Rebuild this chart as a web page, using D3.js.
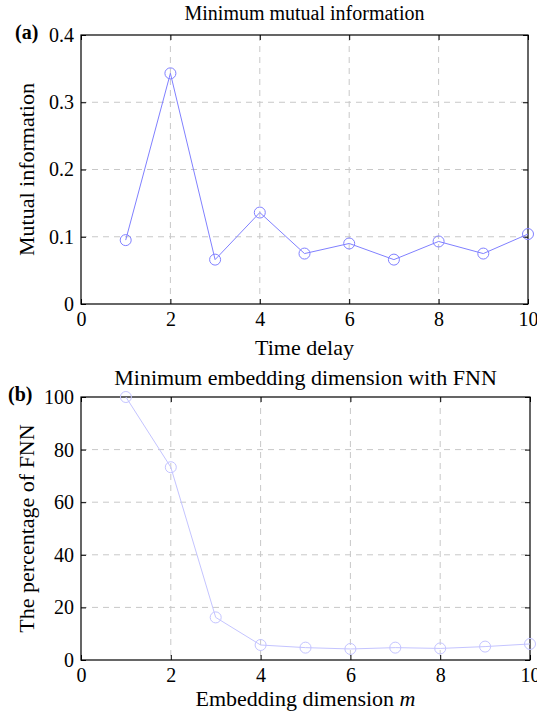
<!DOCTYPE html>
<html>
<head>
<meta charset="utf-8">
<script src="https://cdn.jsdelivr.net/npm/d3@7"></script>
<style>
  body { margin: 0; background: #fff; }
  svg text { font-family: 'Liberation Serif', 'Times New Roman', serif; fill: #000; }
</style>
</head>
<body>
<div id="chart"></div>
<script>
// panel (a): mutual information vs time delay
const delays = [1, 2, 3, 4, 5, 6, 7, 8, 9, 10];
const mutualInfo = [0.095, 0.343, 0.066, 0.136, 0.075, 0.090, 0.066, 0.093, 0.075, 0.104];
const miTicksX = [0, 2, 4, 6, 8, 10];
const miTicksY = [0, 0.1, 0.2, 0.3, 0.4];

// panel (b): false nearest neighbours vs embedding dimension
const dims = [1, 2, 3, 4, 5, 6, 7, 8, 9, 10];
const fnnPercent = [100, 73.3, 16.2, 5.7, 4.7, 4.2, 4.7, 4.4, 5.1, 6.1];
const fnnTicksX = [0, 2, 4, 6, 8, 10];
const fnnTicksY = [0, 20, 40, 60, 80, 100];

const width = 537;
const height = 716;
const serif = "'Liberation Serif', 'Times New Roman', serif";

const svg = d3.select('#chart')
    .append('svg')
    .attr('width', width)
    .attr('height', height);

function drawPanel(opts) {
    const { left, right, top, bottom } = opts;
    const g = svg.append('g');

    const xScale = d3.scaleLinear().domain([0, 10]).range([left, right]);
    const yScale = d3.scaleLinear().domain(opts.yDomain).range([bottom, top]);

    // grid
    g.append('g')
        .selectAll('line')
        .data(opts.ticksX.slice(1, -1))
        .enter()
        .append('line')
        .attr('x1', d => xScale(d)).attr('x2', d => xScale(d))
        .attr('y1', top).attr('y2', bottom)
        .attr('stroke', '#c8c8c8')
        .attr('stroke-dasharray', '6,5');
    g.append('g')
        .selectAll('line')
        .data(opts.ticksY.slice(1, -1))
        .enter()
        .append('line')
        .attr('y1', d => yScale(d)).attr('y2', d => yScale(d))
        .attr('x1', left).attr('x2', right)
        .attr('stroke', '#c8c8c8')
        .attr('stroke-dasharray', '6,5');

    // axes, ticks pointing inwards (matlab style)
    const axisFont = a => a.selectAll('text')
        .style('font-family', serif)
        .style('font-size', '20px')
        .attr('fill', '#000');

    g.append('g')
        .attr('transform', `translate(0,${bottom})`)
        .call(d3.axisBottom(xScale).tickValues(opts.ticksX).tickSize(-5).tickPadding(8).tickFormat(d3.format('d')))
        .call(axisFont)
        .call(a => a.select('.domain').remove());
    g.append('g')
        .attr('transform', `translate(0,${top})`)
        .call(d3.axisTop(xScale).tickValues(opts.ticksX).tickSize(-5).tickFormat(''))
        .call(a => a.select('.domain').remove());
    g.append('g')
        .attr('transform', `translate(${left},0)`)
        .call(d3.axisLeft(yScale).tickValues(opts.ticksY).tickSize(-5).tickPadding(7).tickFormat(opts.yFormat))
        .call(axisFont)
        .call(a => a.select('.domain').remove());
    g.append('g')
        .attr('transform', `translate(${right},0)`)
        .call(d3.axisRight(yScale).tickValues(opts.ticksY).tickSize(-5).tickFormat(''))
        .call(a => a.select('.domain').remove());

    g.append('rect')
        .attr('x', left).attr('y', top)
        .attr('width', right - left).attr('height', bottom - top)
        .attr('fill', 'none')
        .attr('stroke', '#000')
        .attr('stroke-width', 1.2);

    // data
    const pts = opts.xs.map((x, i) => ({ x, y: opts.ys[i] }));
    const line = d3.line().x(d => xScale(d.x)).y(d => yScale(d.y));
    g.append('path')
        .datum(pts)
        .attr('fill', 'none')
        .attr('stroke', opts.color)
        .attr('stroke-width', 1)
        .attr('d', line);
    g.append('g')
        .selectAll('circle')
        .data(pts)
        .enter()
        .append('circle')
        .attr('cx', d => xScale(d.x))
        .attr('cy', d => yScale(d.y))
        .attr('r', 5.5)
        .attr('fill', 'none')
        .attr('stroke', opts.color)
        .attr('stroke-width', 1);

    // titles and labels
    g.append('text')
        .attr('x', (left + right) / 2).attr('y', top + opts.titleDy)
        .attr('text-anchor', 'middle')
        .style('font-family', serif)
        .style('font-size', opts.titleSize + 'px')
        .text(opts.title);
    g.append('text')
        .attr('x', opts.tagX).attr('y', top + 4)
        .style('font-family', serif)
        .style('font-size', '20px')
        .style('font-weight', 'bold')
        .text(opts.tag);
    const xl = g.append('text')
        .attr('x', (left + right) / 2).attr('y', bottom + opts.xLabelDy)
        .attr('text-anchor', 'middle')
        .style('font-family', serif)
        .style('font-size', '22px');
    xl.append('tspan').text(opts.xLabel);
    if (opts.xLabelItalic) {
        xl.append('tspan').style('font-style', 'italic').text(' ' + opts.xLabelItalic);
    }
    g.append('text')
        .attr('transform', `translate(34,${(top + bottom) / 2}) rotate(-90)`)
        .attr('text-anchor', 'middle')
        .style('font-family', serif)
        .style('font-size', '22px')
        .text(opts.yLabel);
}

drawPanel({
    left: 81, right: 528, top: 35, bottom: 304,
    xs: delays, ys: mutualInfo,
    yDomain: [0, 0.4],
    ticksX: miTicksX, ticksY: miTicksY,
    yFormat: d => d === 0 ? '0' : d3.format('.1f')(d),
    color: '#8080ff',
    title: 'Minimum mutual information',
    titleSize: 20, titleDy: -15,
    tag: '(a)', tagX: 15,
    xLabel: 'Time delay', xLabelDy: 51,
    yLabel: 'Mutual information'
});

drawPanel({
    left: 81, right: 530, top: 397, bottom: 660,
    xs: dims, ys: fnnPercent,
    yDomain: [0, 100],
    ticksX: fnnTicksX, ticksY: fnnTicksY,
    yFormat: d3.format('d'),
    color: '#c4c4ff',
    title: 'Minimum embedding dimension with FNN',
    titleSize: 22, titleDy: -12,
    tag: '(b)', tagX: 8,
    xLabel: 'Embedding dimension',
    xLabelItalic: 'm', xLabelDy: 46,
    yLabel: 'The percentage of FNN'
});
</script>
</body>
</html>
